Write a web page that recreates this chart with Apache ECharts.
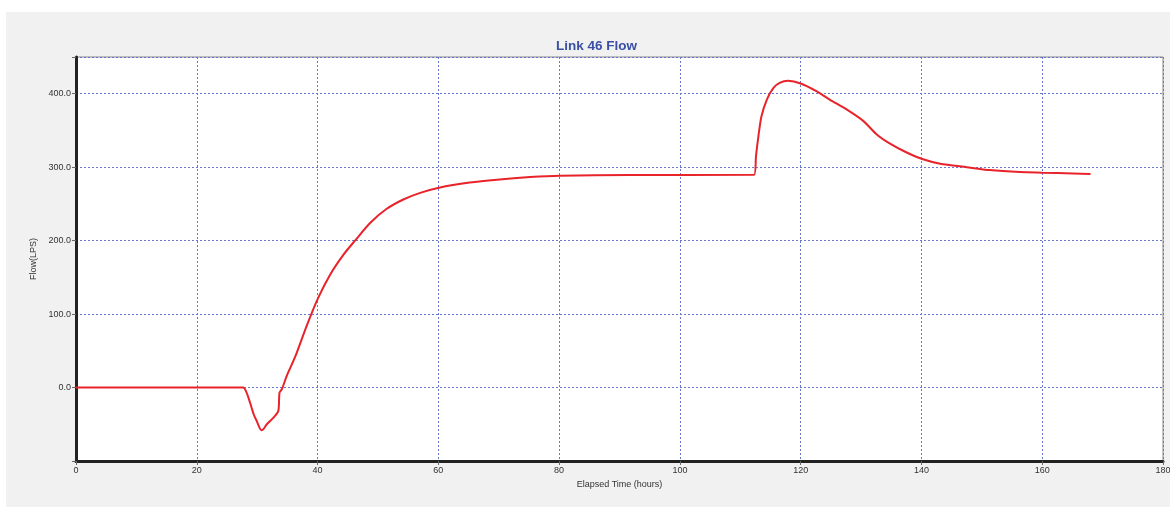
<!DOCTYPE html>
<html>
<head>
<meta charset="utf-8">
<script src="https://cdn.jsdelivr.net/npm/echarts@6/dist/echarts.min.js"></script>
<style>
html,body{margin:0;padding:0;background:#fff;}
#c{width:1170px;height:507px;}
</style>
</head>
<body>
<div id="c"></div>
<script>
const times = [0,27.7,28.2,28.8,29.4,29.9,30.7,31.0,31.6,32.7,33.5,33.7,34.1,34.9,36.3,38.2,40.1,42.1,44.3,46.2,48.7,51.4,54.2,57.0,60.1,65.2,69.7,75.2,80.1,91.7,112.3,112.6,113.0,113.5,114.4,115.5,116.6,117.9,120,122.6,124.8,127.6,130.4,132.6,134.8,137.3,140,143.1,147.5,151.3,156.3,160,165.1,168];
const flows = [0,0,-6,-20,-36,-45,-58,-57,-50,-41,-32,-7,-2,16,42,84,122,154,181,200,224,243,256,265,272,279,283,286.5,288.4,289.3,289.8,315,342,369,392,408,415,417.5,414,403.5,392,378.6,362.7,344.6,332,321,311.5,304.8,300,296,293.3,292.5,291.5,290.6];
const xTicks = [0,20,40,60,80,100,120,140,160,180];
const yTicks = [0,100,200,300,400];

const chart = echarts.init(document.getElementById('c'));
const FONT = '"Liberation Sans", Arial, sans-serif';
chart.setOption({
  backgroundColor: '#ffffff',
  animation: false,
  graphic: [{
    type: 'rect', z: -10, silent: true,
    shape: {x: 6, y: 12, width: 1170, height: 500},
    style: {fill: '#f0f1f0'}
  }],
  title: {
    text: 'Link 46 Flow',
    left: 551, top: 34,
    textStyle: {color: '#3a4fa6', fontSize: 13.5, fontWeight: 'bold', fontFamily: FONT}
  },
  grid: {
    left: 76, top: 57, right: 7, bottom: 46,
    outerBoundsMode: 'none', containLabel: false,
    show: true, backgroundColor: '#ffffff', borderColor: '#888888', borderWidth: 1
  },
  xAxis: {
    type: 'value', min: 0, max: 180, interval: 20,
    name: 'Elapsed Time (hours)', nameLocation: 'middle', nameGap: 19,
    nameTextStyle: {color: '#333', fontSize: 9, fontFamily: FONT},
    axisLine: {show: true, onZero: false, lineStyle: {color: '#222', width: 3}},
    axisTick: {show: true, length: 4, lineStyle: {color: '#666'}},
    axisLabel: {color: '#333', fontSize: 9, fontFamily: FONT, margin: 5,
      formatter: v => xTicks.includes(v) ? String(v) : ''},
    splitLine: {show: true, lineStyle: {color: '#6677cc', type: [2, 2], width: 1}}
  },
  yAxis: {
    type: 'value', min: -100, max: 450, interval: 100,
    name: 'Flow(LPS)', nameLocation: 'middle', nameGap: 34,
    nameTextStyle: {color: '#333', fontSize: 9, fontFamily: FONT},
    axisLine: {show: true, onZero: false, lineStyle: {color: '#222', width: 3}},
    axisTick: {show: true, length: 4, lineStyle: {color: '#666'}},
    axisLabel: {color: '#333', fontSize: 9, fontFamily: FONT, margin: 5,
      formatter: v => yTicks.includes(v) ? v.toFixed(1) : ''},
    splitLine: {show: true, lineStyle: {color: '#6677cc', type: [2, 2], width: 1}}
  },
  series: [{
    type: 'line',
    data: times.map((t, i) => [t, flows[i]]),
    showSymbol: false,
    smooth: 0.25,
    lineStyle: {color: '#e8232a', width: 2},
    itemStyle: {color: '#e8232a'}
  }]
});
</script>
</body>
</html>
